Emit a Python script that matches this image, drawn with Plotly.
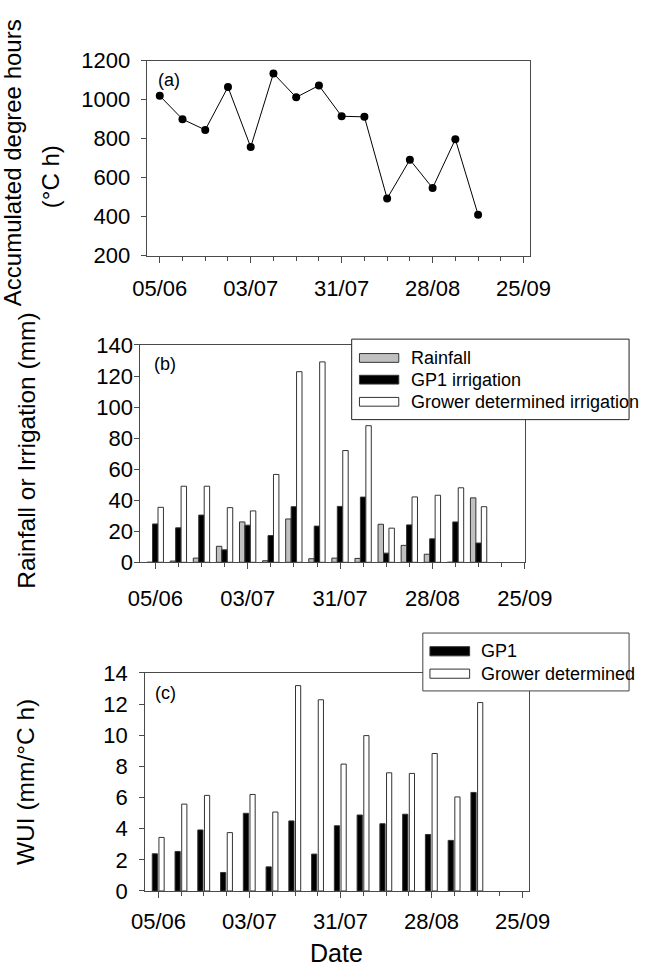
import plotly.graph_objects as go
import pandas as pd

# ---------------- data ----------------
week_dates = ['2009-06-05', '2009-06-12', '2009-06-19', '2009-06-26', '2009-07-03',
              '2009-07-10', '2009-07-17', '2009-07-24', '2009-07-31', '2009-08-07',
              '2009-08-14', '2009-08-21', '2009-08-28', '2009-09-04', '2009-09-11']
degree_hours = [1020, 900, 845, 1065, 757, 1135, 1012, 1073, 915, 912, 493, 692, 547, 797, 410]
rainfall = [0, 0.8, 2.7, 10.3, 26, 1, 27.9, 2.3, 2.7, 2.5, 24.5, 10.9, 5.2, 0, 41.5]
gp1_irrigation = [24.7, 22.2, 30.4, 8, 23.9, 17.2, 35.8, 23.3, 36, 42, 5.9, 24.1, 15.1, 26, 12.4]
grower_irrigation = [35.4, 49, 49, 35.2, 33.1, 56.6, 122.8, 129.1, 72, 88, 22, 42.1, 43.2, 48, 35.8]
wui_gp1 = [2.39, 2.54, 3.92, 1.19, 4.99, 1.55, 4.5, 2.37, 4.19, 4.88, 4.32, 4.93, 3.63, 3.25, 6.33]
wui_grower = [3.44, 5.58, 6.14, 3.75, 6.2, 5.07, 13.19, 12.28, 8.15, 9.98, 7.59, 7.55, 8.83, 6.04, 12.1]
tick_start = '2009-06-05'
tick_end = '2009-09-25'

# ---------------- layout helpers ----------------
W, H = 658, 980
FONT = 'Liberation Sans, Arial, sans-serif'
AX = '#4a4a4a'
DAY = 86400000


def xd(l, r):
    return [l / W, r / W]


def yd(t, b):
    return [1 - b / H, 1 - t / H]


def px(x):
    return x / W


def py(y):
    return 1 - y / H


def drange(before, after):
    b = pd.Timestamp(tick_start) - pd.Timedelta(days=before)
    e = pd.Timestamp(tick_end) + pd.Timedelta(days=after)
    return [b.strftime('%Y-%m-%d %H:%M:%S'), e.strftime('%Y-%m-%d %H:%M:%S')]


fig = go.Figure()

# panel (a)
fig.add_trace(go.Scatter(x=week_dates, y=degree_hours, mode='lines+markers',
                         line=dict(color='black', width=1),
                         marker=dict(color='black', size=8),
                         xaxis='x', yaxis='y', showlegend=False))

# panel (b)
bw_b = 1.65 * DAY
fig.add_trace(go.Bar(x=week_dates, y=rainfall, width=bw_b, offset=-2.5 * DAY,
                     marker=dict(color='#c0c0c0', line=dict(color='#333', width=1)),
                     xaxis='x2', yaxis='y2', showlegend=False, name='Rainfall'))
fig.add_trace(go.Bar(x=week_dates, y=gp1_irrigation, width=bw_b, offset=-0.85 * DAY,
                     marker=dict(color='black', line=dict(color='#333', width=1)),
                     xaxis='x2', yaxis='y2', showlegend=False, name='GP1 irrigation'))
fig.add_trace(go.Bar(x=week_dates, y=grower_irrigation, width=bw_b, offset=0.8 * DAY,
                     marker=dict(color='white', line=dict(color='#333', width=1)),
                     xaxis='x2', yaxis='y2', showlegend=False, name='Grower determined irrigation'))

# panel (c)
bw_c = 1.6 * DAY
fig.add_trace(go.Bar(x=week_dates, y=wui_gp1, width=bw_c, offset=-1.9 * DAY,
                     marker=dict(color='black', line=dict(color='#333', width=1)),
                     xaxis='x3', yaxis='y3', showlegend=False, name='GP1'))
fig.add_trace(go.Bar(x=week_dates, y=wui_grower, width=bw_c, offset=0.15 * DAY,
                     marker=dict(color='white', line=dict(color='#333', width=1)),
                     xaxis='x3', yaxis='y3', showlegend=False, name='Grower determined'))


def xaxis(domain, rng, anchor, standoff):
    return dict(domain=domain, range=rng, anchor=anchor, type='date',
                tick0=tick_start, dtick=28 * DAY, tickformat='%d/%m',
                ticks='outside', ticklen=6, tickcolor=AX, tickwidth=1,
                ticklabelstandoff=standoff,
                minor=dict(tick0=tick_start, dtick=7 * DAY, ticks='outside',
                           ticklen=4, tickcolor=AX, tickwidth=1, showgrid=False),
                showline=True, linecolor=AX, linewidth=1, mirror=True,
                showgrid=False, zeroline=False,
                tickfont=dict(family=FONT, size=22, color='black'))


def yaxis(domain, rng, dtick, anchor, standoff):
    return dict(domain=domain, range=rng, anchor=anchor, dtick=dtick, tick0=0,
                ticks='outside', ticklen=5, tickcolor=AX, tickwidth=1,
                ticklabelstandoff=standoff,
                showline=True, linecolor=AX, linewidth=1, mirror=True,
                showgrid=False, zeroline=False,
                tickfont=dict(family=FONT, size=22, color='black'))


fig.update_layout(
    width=W, height=H, margin=dict(l=0, r=0, t=0, b=0),
    paper_bgcolor='white', plot_bgcolor='white', barmode='overlay',
    font=dict(family=FONT, color='black'),
    xaxis=xaxis(xd(141.7, 551.7), drange(4.035, 2.133), 'y', 7),
    yaxis=yaxis(yd(50, 250), [200, 1200], 200, 'x', 6),
    xaxis2=xaxis(xd(135, 545.7), drange(4.54, 0.0), 'y2', 10),
    yaxis2=yaxis(yd(341.7, 564.7), [0, 140], 20, 'x2', -3),
    xaxis3=xaxis(xd(140, 550), drange(4.117, 1.929), 'y3', 5),
    yaxis3=yaxis(yd(678.3, 902), [0, 14], 2, 'x3', 7),
)

annotations = []
shapes = []


def text(x, y, s, size, angle=0, xanchor='center', yanchor='middle'):
    annotations.append(dict(x=px(x), y=py(y), xref='paper', yref='paper', text=s,
                            showarrow=False, textangle=angle, xanchor=xanchor,
                            yanchor=yanchor, font=dict(family=FONT, size=size, color='black')))


# axis titles
text(-2, 155, 'Accumulated degree hours', 24, -90)
text(39, 169, '(°C h)', 24, -90)
text(13, 450, 'Rainfall or Irrigation (mm)', 24.5, -90)
text(13, 790, 'WUI (mm/°C h)', 24.5, -90)
text(345, 966, 'Date', 25)

# panel labels
text(152, 70, '(a)', 18, xanchor='left')
text(147, 361, '(b)', 18, xanchor='left')
text(148, 699, '(c)', 18, xanchor='left')


def rect(x0, y0, x1, y1, fill, line='#333'):
    shapes.append(dict(type='rect', xref='paper', yref='paper', x0=px(x0), x1=px(x1),
                       y0=py(y1), y1=py(y0), fillcolor=fill, layer='above',
                       line=dict(color=line, width=1)))


# legend (b)
rect(360.7, 335.7, 657, 418.3, 'white', '#222')
leg_b = [('Rainfall', '#c0c0c0', 355), ('GP1 irrigation', 'black', 377.3),
         ('Grower determined irrigation', 'white', 400)]
for name, col, yc in leg_b:
    rect(369, yc - 4.5, 411, yc + 4.5, col)
    text(421.7, yc, name, 18, xanchor='left')

# legend (c)
rect(436.7, 637.3, 657, 696.7, 'white', '#444')
leg_c = [('GP1', 'black', 656), ('Grower determined', 'white', 679)]
for name, col, yc in leg_c:
    rect(444.3, yc - 4.7, 486.7, yc + 4.7, col)
    text(496.7, yc, name, 18, xanchor='left')

fig.update_layout(annotations=annotations, shapes=shapes)
fig.write_html('out.html')
